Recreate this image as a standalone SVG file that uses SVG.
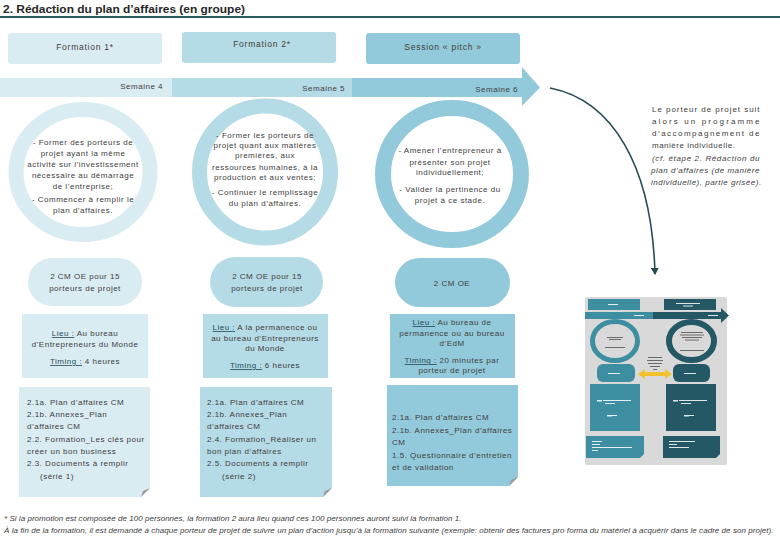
<svg xmlns="http://www.w3.org/2000/svg" width="780" height="540" viewBox="0 0 780 540">
<style>
.t{font-family:"Liberation Sans",Arial,sans-serif;font-size:8px;fill:#404040;letter-spacing:0.5px}
.c{text-anchor:middle}
.h{font-size:8.5px;letter-spacing:0.75px}
.u{text-decoration:underline;fill:#234b56}
.i{font-style:italic}
.c1{fill:#d9ecf2}.c2{fill:#b5dbe6}.c3{fill:#93cadb}
.r1{fill:none;stroke:#d9ecf2;stroke-width:15}
.r2{fill:none;stroke:#b5dbe6;stroke-width:15}
.r3{fill:none;stroke:#93cadb;stroke-width:16}
.fold{fill:#9a9a9a}
.tl{fill:#3c8ea0}.td{fill:#235864}
.w{fill:#ffffff;opacity:0.85}
.g{fill:#6a6a6a}
</style>
<defs>
<marker id="ah" markerWidth="8" markerHeight="8" refX="6" refY="4" orient="auto" markerUnits="userSpaceOnUse">
<path d="M0,0 L7,4 L0,8 Z" fill="#244c55"/>
</marker>
</defs>
<rect width="780" height="540" fill="#ffffff"/>
<g id="title">
<text x="3" y="13" font-family="Liberation Sans,Arial,sans-serif" font-size="11.5" font-weight="bold" fill="#262626" textLength="242" lengthAdjust="spacingAndGlyphs">2. Rédaction du plan d’affaires (en groupe)</text>
<rect x="0" y="16" width="780" height="2" fill="#2d5963"/>
</g>
<g id="formation1"><rect x="8" y="33" width="154" height="31" rx="3" class="c1"/><text x="85" y="50" class="t c h">Formation 1*</text></g>
<g id="formation2"><rect x="182" y="32" width="154" height="31" rx="3" class="c2"/><text x="262" y="47" class="t c h">Formation 2*</text></g>
<g id="pitch"><rect x="366" y="33" width="154" height="31" rx="3" class="c3"/><text x="443" y="50" class="t c h">Session « pitch »</text></g>
<g id="timeline">
<rect x="0" y="78" width="172" height="19" class="c1"/>
<rect x="172" y="78" width="180" height="19" class="c2"/>
<path d="M352,78 H522 V67 L540,87.5 L522,106 V97 H352 Z" class="c3"/>
<text x="163" y="89" class="t" text-anchor="end">Semaine 4</text>
<text x="345" y="91" class="t" text-anchor="end">Semaine 5</text>
<text x="518" y="92" class="t" text-anchor="end">Semaine 6</text>
</g>
<g id="circle1">
<ellipse cx="83" cy="172" rx="67" ry="62.5" class="r1"/>
<text class="t c"><tspan x="83" y="145">- Former des porteurs de</tspan><tspan x="83" y="156">projet ayant la même</tspan><tspan x="83" y="167">activité sur l’investissement</tspan><tspan x="83" y="178">nécessaire au démarrage</tspan><tspan x="83" y="189">de l’entreprise;</tspan><tspan x="83" y="202">- Commencer à remplir le</tspan><tspan x="83" y="213">plan d’affaires.</tspan></text>
</g>
<g id="circle2">
<ellipse cx="265" cy="172" rx="65.5" ry="66" class="r2"/>
<text class="t c"><tspan x="265" y="138">- Former les porteurs de</tspan><tspan x="265" y="148">projet quant aux matières</tspan><tspan x="265" y="158">premières, aux</tspan><tspan x="265" y="170">ressources humaines, à la</tspan><tspan x="265" y="180">production et aux ventes;</tspan><tspan x="265" y="195">- Continuer le remplissage</tspan><tspan x="265" y="206">du plan d’affaires.</tspan></text>
</g>
<g id="circle3">
<ellipse cx="452" cy="174" rx="69" ry="66" class="r3"/>
<text class="t c"><tspan x="450" y="153">- Amener l’entrepreneur à</tspan><tspan x="450" y="165">présenter son projet</tspan><tspan x="450" y="175">individuellement;</tspan><tspan x="450" y="192">- Valider la pertinence du</tspan><tspan x="450" y="203">projet à ce stade.</tspan></text>
</g>
<g id="note">
<text class="t" letter-spacing="0.3"><tspan x="652" y="112" textLength="108" lengthAdjust="spacing">Le porteur de projet suit</tspan><tspan x="652" y="124" textLength="108" lengthAdjust="spacing">alors un programme</tspan><tspan x="652" y="136" textLength="108" lengthAdjust="spacing">d’accompagnement de</tspan><tspan x="652" y="148">manière individuelle.</tspan><tspan x="652" y="161" class="i" textLength="108" lengthAdjust="spacing">(cf. étape 2. Rédaction du</tspan><tspan x="651" y="173" class="i" textLength="109" lengthAdjust="spacing">plan d’affaires (de manière</tspan><tspan x="651" y="185" class="i">individuelle), partie grisée).</tspan></text>
</g>
<g id="pill1"><rect x="28" y="258" width="114" height="48" rx="24" class="c1"/><text class="t c"><tspan x="85" y="279">2 CM OE pour 15</tspan><tspan x="85" y="291">porteurs de projet</tspan></text></g>
<g id="pill2"><rect x="210" y="257" width="113" height="50" rx="25" class="c2"/><text class="t c"><tspan x="267" y="279">2 CM OE pour 15</tspan><tspan x="267" y="291">porteurs de projet</tspan></text></g>
<g id="pill3"><rect x="395" y="258" width="115" height="49" rx="24.5" class="c3"/><text x="452" y="286" class="t c">2 CM OE</text></g>
<g id="lieu1"><rect x="22" y="314" width="126" height="64" class="c1"/><text class="t c"><tspan x="85" y="336"><tspan class="u">Lieu :</tspan> Au bureau</tspan><tspan x="85" y="347">d’Entrepreneurs du Monde</tspan><tspan x="85" y="364"><tspan class="u">Timing :</tspan> 4 heures</tspan></text></g>
<g id="lieu2"><rect x="203" y="314" width="125" height="64" class="c2"/><text class="t c"><tspan x="265" y="330"><tspan class="u">Lieu :</tspan> A la permanence ou</tspan><tspan x="265" y="341">au bureau d’Entrepreneurs</tspan><tspan x="265" y="351">du Monde</tspan><tspan x="265" y="368"><tspan class="u">Timing :</tspan> 6 heures</tspan></text></g>
<g id="lieu3"><rect x="390" y="314" width="125" height="64" class="c3"/><text class="t c"><tspan x="452" y="325"><tspan class="u">Lieu :</tspan> Au bureau de</tspan><tspan x="452" y="336">permanence ou au bureau</tspan><tspan x="452" y="346">d’EdM</tspan><tspan x="452" y="363"><tspan class="u">Timing :</tspan> 20 minutes par</tspan><tspan x="452" y="373">porteur de projet</tspan></text></g>
<g id="docs1"><path d="M19,387 H150 V488 L141,497 H19 Z" class="c1"/><path d="M150,488 L141,497 L143,491 Z" class="fold"/>
<text class="t" letter-spacing="0.4"><tspan x="27" y="405">2.1a. Plan d’affaires CM</tspan><tspan x="27" y="417">2.1b. Annexes_Plan</tspan><tspan x="27" y="429">d’affaires CM</tspan><tspan x="27" y="442">2.2. Formation_Les clés pour</tspan><tspan x="27" y="454">créer un bon business</tspan><tspan x="27" y="466">2.3. Documents à remplir</tspan><tspan x="40" y="479">(série 1)</tspan></text></g>
<g id="docs2"><path d="M200,387 H332 V488 L323,497 H200 Z" class="c2"/><path d="M332,488 L323,497 L325,491 Z" class="fold"/>
<text class="t" letter-spacing="0.4"><tspan x="207" y="405">2.1a. Plan d’affaires CM</tspan><tspan x="207" y="417">2.1b. Annexes_Plan</tspan><tspan x="207" y="429">d’affaires CM</tspan><tspan x="207" y="442">2.4. Formation_Réaliser un</tspan><tspan x="207" y="454">bon plan d’affaires</tspan><tspan x="207" y="466">2.5. Documents à remplir</tspan><tspan x="222" y="479">(série 2)</tspan></text></g>
<g id="docs3"><path d="M387,385 H518 V477 L509,486 H387 Z" class="c3"/><path d="M518,477 L509,486 L511,480 Z" class="fold"/>
<text class="t" letter-spacing="0.4"><tspan x="392" y="420">2.1a. Plan d’affaires CM</tspan><tspan x="392" y="433">2.1b. Annexes_Plan d’affaires</tspan><tspan x="392" y="445">CM</tspan><tspan x="392" y="458">1.5. Questionnaire d’entretien</tspan><tspan x="392" y="470">et de validation</tspan></text></g>
<g id="thumbnail">
<rect x="585" y="297" width="142" height="168" rx="2" fill="#d9d9d9"/>
<rect x="588" y="299" width="52" height="11" class="tl"/>
<rect x="664" y="299" width="52" height="11" class="td"/>
<rect x="585" y="312" width="68" height="7" class="tl"/>
<path d="M653,312 H721 V308 L729,315.5 L721,323 V319 H653 Z" class="td"/>
<ellipse cx="615" cy="341" rx="22.5" ry="19.5" fill="none" stroke="#3c8ea0" stroke-width="5"/>
<ellipse cx="691.5" cy="341" rx="22.5" ry="19" fill="none" stroke="#235864" stroke-width="6"/>
<rect x="597" y="364" width="38" height="18" rx="6" class="tl"/>
<rect x="673" y="364" width="37" height="18" rx="6" class="td"/>
<path d="M638,374 L645,369 V372 H665 V369 L672,374 L665,379 V376 H645 V379 Z" fill="#f2c12e"/>
<rect x="590" y="384" width="50" height="47" class="tl"/>
<rect x="666" y="384" width="50" height="47" class="td"/>
<path d="M586,436 H644 V454 L640,458 H586 Z" class="tl"/>
<path d="M663,436 H720 V454 L716,458 H663 Z" class="td"/>
<rect x="608" y="304" width="10" height="1" class="w"/>
<rect x="676" y="303" width="24" height="1" class="w"/><rect x="683" y="305.5" width="10" height="1" class="w"/>
<rect x="634" y="315" width="10" height="1" class="w"/><rect x="708" y="315" width="10" height="1" class="w"/>
<rect x="607" y="337" width="16" height="1" class="g"/><rect x="609" y="339" width="12" height="1" class="g"/><rect x="605" y="347" width="20" height="1" class="g"/>
<rect x="681" y="332" width="22" height="1" class="g"/><rect x="680" y="334.5" width="24" height="1" class="g"/><rect x="682" y="337" width="20" height="1" class="g"/><rect x="685" y="339.5" width="14" height="1" class="g"/><rect x="680" y="350" width="24" height="1" class="g"/>
<rect x="648" y="357" width="14" height="1" class="g"/><rect x="647" y="360" width="16" height="1" class="g"/><rect x="648" y="363" width="14" height="1" class="g"/><rect x="650" y="366" width="10" height="1" class="g"/><rect x="653" y="369" width="4" height="1" class="g"/>
<rect x="608" y="373" width="12" height="1" class="w"/><rect x="684" y="373" width="12" height="1" class="w"/>
<rect x="597" y="400" width="5" height="1.5" class="w"/><rect x="603" y="400" width="28" height="1" class="w"/><rect x="605" y="403" width="10" height="1" class="w"/><rect x="607" y="415" width="5" height="1.5" class="w"/><rect x="612" y="415" width="5" height="1" class="w"/>
<rect x="673" y="400" width="5" height="1.5" class="w"/><rect x="679" y="400" width="28" height="1" class="w"/><rect x="681" y="403" width="10" height="1" class="w"/><rect x="684" y="415" width="5" height="1.5" class="w"/><rect x="689" y="415" width="5" height="1" class="w"/>
<rect x="592" y="441" width="10" height="1" class="w"/><rect x="592" y="444" width="8" height="1" class="w"/><rect x="592" y="447" width="40" height="1" class="w"/><rect x="592" y="450" width="6" height="1" class="w"/>
<rect x="669" y="441" width="26" height="1" class="w"/><rect x="669" y="444" width="8" height="1" class="w"/><rect x="669" y="447" width="20" height="1" class="w"/>
</g>
<g id="connectors">
<path d="M550,88 C612,100 652,165 655,274" fill="none" stroke="#244c55" stroke-width="1.6" marker-end="url(#ah)"/>
</g>
<g id="footer">
<text x="4" y="521" class="t i" font-size="7" letter-spacing="0" textLength="458" lengthAdjust="spacing">* Si la promotion est composée de 100 personnes, la formation 2 aura lieu quand ces 100 personnes auront suivi la formation 1.</text>
<text x="4" y="533" class="t i" font-size="7" letter-spacing="0" textLength="770" lengthAdjust="spacing">À la fin de la formation, il est demandé à chaque porteur de projet de suivre un plan d’action jusqu’à la formation suivante (exemple: obtenir des factures pro forma du matériel à acquérir dans le cadre de son projet).</text>
</g>
</svg>
